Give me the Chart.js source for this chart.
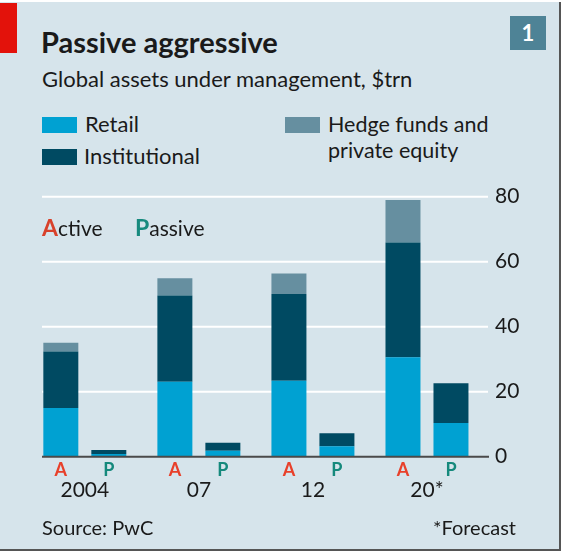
<!DOCTYPE html>
<html>
<head>
<meta charset="utf-8">
<script src="https://cdn.jsdelivr.net/npm/chart.js@4"></script>
<style>
body { margin: 0; background: #fff; font-family: Lato, sans-serif; color: #1a1a1a; }
#wrap { position: relative; width: 564px; height: 554px; overflow: hidden; }
#panel { position: absolute; left: 0; top: 2px; width: 559px; height: 547px; background: #d6e4eb;
  border-right: 2px solid #555; border-bottom: 2px solid #555; }
.t { position: absolute; line-height: 1; white-space: nowrap; }
.sw { position: absolute; width: 35px; height: 16px; }
canvas { position: absolute; left: 0; top: 0; }
</style>
</head>
<body>
<div id="wrap">
  <div id="panel"></div>
  <div style="position:absolute;left:0;top:3px;width:17px;height:50px;background:#e3120b"></div>
  <div class="t" style="left:41px;top:27px;font-size:29px;font-weight:bold">Passive aggressive</div>
  <div class="t" style="left:42px;top:68px;font-size:22px">Global assets under management, $trn</div>
  <div style="position:absolute;left:510px;top:16px;width:36px;height:34px;background:#4e8396;color:#fff;font-weight:bold;font-size:22px;line-height:34px;text-align:center">1</div>

  <div class="sw" style="left:42px;top:117px;background:#00a1d2"></div>
  <div class="t" style="left:85px;top:113px;font-size:22px">Retail</div>
  <div class="sw" style="left:42px;top:149px;background:#004a62"></div>
  <div class="t" style="left:84px;top:145px;font-size:22px">Institutional</div>
  <div class="sw" style="left:285px;top:117px;background:#668fa0"></div>
  <div class="t" style="left:328px;top:113px;font-size:21.5px;line-height:26px;margin-top:-2px">Hedge funds and<br>private equity</div>

  <canvas id="chart" width="564" height="554"></canvas>

  <div class="t" style="left:42px;top:216px;font-size:21px"><b style="color:#d8412b;font-size:23px">A</b>ctive</div>
  <div class="t" style="left:135px;top:216px;font-size:21px"><b style="color:#178a7e;font-size:23px">P</b>assive</div>

  <div class="t" style="left:42px;top:517px;font-size:20px">Source: PwC</div>
  <div class="t" style="right:48px;top:517px;font-size:20px">*Forecast</div>
</div>
<script>
const years = ["2004", "07", "12", "20*"];
const activeRetail = [15.0, 23.1, 23.4, 30.6];
const activeInstitutional = [17.4, 26.5, 26.7, 35.3];
const activeHedge = [2.7, 5.3, 6.3, 13.1];
const passiveRetail = [0.8, 1.85, 3.2, 10.4];
const passiveInstitutional = [1.25, 2.45, 4.0, 12.2];
const yTicks = [0, 20, 40, 60, 80];

const retailColor = "#00a1d2";
const instColor = "#004a62";
const hedgeColor = "#668fa0";

// white gridlines and the dark zero line, drawn wider than the plot area like the original
const gridPlugin = {
  id: "grid",
  beforeDatasetsDraw(chart) {
    const c = chart.ctx;
    const y = chart.scales.y;
    c.save();
    c.strokeStyle = "#fff";
    c.lineWidth = 2;
    yTicks.forEach(v => {
      if (v === 0) return;
      const py = y.getPixelForValue(v);
      c.beginPath();
      c.moveTo(42, py);
      c.lineTo(488, py);
      c.stroke();
    });
    c.restore();
  },
  afterDatasetsDraw(chart) {
    const c = chart.ctx;
    const py = chart.scales.y.getPixelForValue(0);
    c.save();
    c.strokeStyle = "#4a4a4a";
    c.lineWidth = 2;
    c.beginPath();
    c.moveTo(42, py);
    c.lineTo(489, py);
    c.stroke();

    // A / P under each bar
    c.font = "bold 18px Lato";
    c.textAlign = "center";
    c.textBaseline = "alphabetic";
    [[0, "A", "#e8402a"], [3, "P", "#15897c"]].forEach(([idx, txt, col]) => {
      c.fillStyle = col;
      chart.getDatasetMeta(idx).data.forEach(bar => {
        c.fillText(txt, bar.x, py + 19.5);
      });
    });
    c.restore();
  }
};

new Chart(document.getElementById("chart"), {
  type: "bar",
  data: {
    labels: years,
    datasets: [
      { label: "Retail", data: activeRetail, stack: "A", backgroundColor: retailColor },
      { label: "Institutional", data: activeInstitutional, stack: "A", backgroundColor: instColor },
      { label: "Hedge funds and private equity", data: activeHedge, stack: "A", backgroundColor: hedgeColor },
      { label: "Retail", data: passiveRetail, stack: "P", backgroundColor: retailColor },
      { label: "Institutional", data: passiveInstitutional, stack: "P", backgroundColor: instColor }
    ]
  },
  options: {
    responsive: false,
    animation: false,
    categoryPercentage: 0.8416,
    barPercentage: 0.729,
    layout: {
      padding: { left: 27.8, right: 30, top: 196.7, bottom: 47.3 }
    },
    plugins: {
      legend: { display: false },
      tooltip: { enabled: false }
    },
    scales: {
      x: {
        stacked: true,
        grid: { display: false, drawTicks: false },
        border: { display: false },
        ticks: { color: "#1a1a1a", font: { family: "Lato", size: 21 }, padding: 21 },
        afterFit(scale) { scale.height = 50; }
      },
      y: {
        stacked: true,
        position: "right",
        min: 0,
        max: 80,
        afterBuildTicks(scale) { scale.ticks = yTicks.map(v => ({ value: v })); },
        grid: { display: false, drawTicks: false },
        border: { display: false },
        ticks: { color: "#1a1a1a", font: { family: "Lato", size: 21 }, padding: 11 },
        afterFit(scale) { scale.width = 50; }
      }
    }
  },
  plugins: [gridPlugin]
});
</script>
</body>
</html>
